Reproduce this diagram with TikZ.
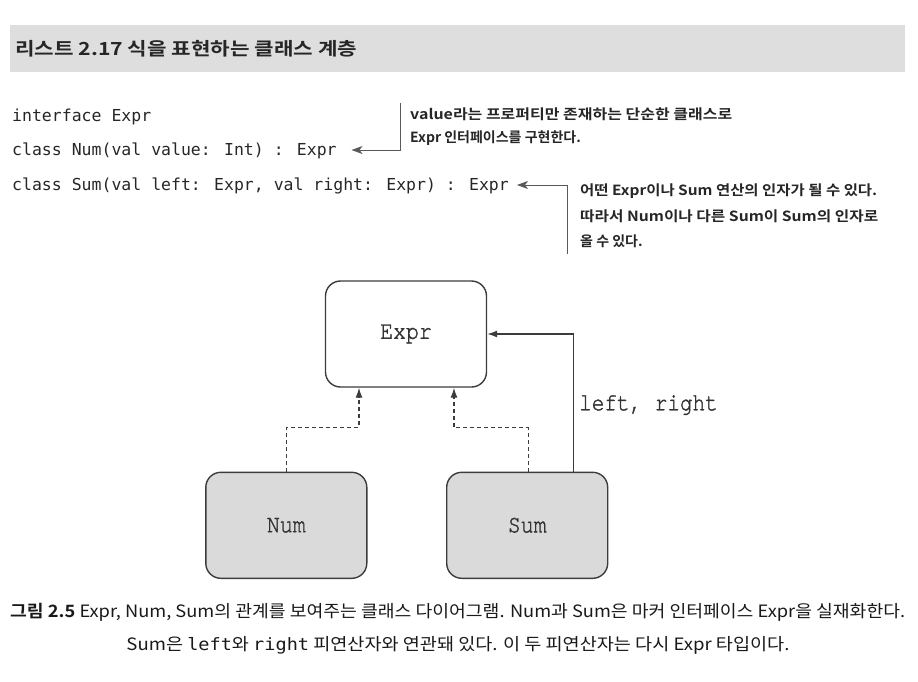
\documentclass[tikz,border=0pt]{standalone}
\usepackage{fontspec}
\usepackage{graphicx}
\setmainfont{Noto Sans CJK KR}[BoldFont={Noto Sans CJK KR Bold}]
\newfontfamily\codefont{DejaVu Sans Mono}
\newfontfamily\diafont{TeX Gyre Cursor}[FakeBold=1.5]
\newcommand{\diatext}[1]{\scalebox{1}[1.18]{#1}}
\usetikzlibrary{arrows.meta}
\definecolor{band}{RGB}{222,222,222}
\definecolor{boxfill}{RGB}{218,218,218}
\definecolor{ink}{RGB}{60,60,60}
\tikzset{
  codeline/.style={anchor=west,inner sep=0pt,font=\codefont\fontsize{16.5}{20}\selectfont,text=black!85},
  note/.style={anchor=west,inner sep=0pt,font=\bfseries\fontsize{14}{16}\selectfont,text=black!85},
  leader/.style={draw=black!65,line width=0.8pt,-{Stealth[length=11pt,width=8pt,inset=3pt]}},
  classbox/.style={draw=ink,line width=1.4pt,rounded corners=15pt,minimum width=161pt,minimum height=106pt,font=\diafont\fontsize{21.5}{22}\selectfont,text=black!80},
  assoc/.style={draw=ink,line width=1.3pt,-{Latex[length=10pt,width=7pt]}},
  realize/.style={draw=ink,line width=1.3pt,dashed,dash pattern=on 4pt off 3pt,-{Latex[length=10pt,width=7pt]}},
}
\begin{document}
\begin{tikzpicture}[x=1pt,y=-1pt]
\useasboundingbox (0,0) rectangle (918,681);
% header band
\fill[band] (10,25) rectangle (905,72);
\node[anchor=west,inner sep=0pt,font=\bfseries\fontsize{18}{20}\selectfont,text=black!85] (title) at (15,49) {\resizebox{342pt}{\height}{리스트 2.17 식을 표현하는 클래스 계층}};
% code
\node[codeline] (l1) at (12,117) {interface Expr};
\node[codeline] (l2) at (12,151) {class Num(val value: Int) : Expr};
\node[codeline] (l3) at (12,186) {class Sum(val left: Expr, val right: Expr) : Expr};
% notes
\node[note] (n1a) at (410,114) {\resizebox{322pt}{\height}{value라는 프로퍼티만 존재하는 단순한 클래스로}};
\node[note] (n1b) at (410,138) {Expr 인터페이스를 구현한다.};
\node[note] (n2a) at (580,191) {\resizebox{297pt}{\height}{어떤 Expr이나 Sum 연산의 인자가 될 수 있다.}};
\node[note] (n2b) at (580,216) {\resizebox{298pt}{\height}{따라서 Num이나 다른 Sum이 Sum의 인자로}};
\node[note] (n2c) at (580,241) {올 수 있다.};
\coordinate (b1) at (400,103);
\coordinate (t1) at (351.5,150);
\coordinate (b2) at (567,254);
\coordinate (t2) at (517,185);
\draw[leader] (b1) |- (t1);
\draw[leader] (b2) |- (t2);
% diagram
\node[classbox,fill=white] (expr) at (406,334) {\diatext{Expr}};
\node[classbox,fill=boxfill] (num) at (286.3,525.3) {\diatext{Num}};
\node[classbox,fill=boxfill] (sum) at (527.2,525.3) {\diatext{Sum}};
\draw[realize] (num.north) -- ++(0,-44) -| ([xshift=-47pt]expr.south);
\draw[realize] ([xshift=1pt]sum.north) -- ++(0,-44) -| ([xshift=48pt]expr.south);
\draw[assoc] ([xshift=46pt]sum.north) |- (expr.east);
\node[anchor=west,inner sep=0pt,font=\diafont\fontsize{21}{22}\selectfont,text=black!80] (lr) at (579,405) {\diatext{left, right}};
% caption
\node[anchor=west,inner sep=0pt,font=\fontsize{17}{20}\selectfont,text=black!90] (cap1) at (10,612) {\resizebox{895pt}{\height}{\textbf{그림 2.5} Expr, Num, Sum의 관계를 보여주는 클래스 다이어그램. Num과 Sum은 마커 인터페이스 Expr을 실재화한다.}};
\node[inner sep=0pt,font=\fontsize{17}{20}\selectfont,text=black!90] (cap2) at (458,645) {\resizebox{663pt}{\height}{Sum은 {\codefont left}와 {\codefont right} 피연산자와 연관돼 있다. 이 두 피연산자는 다시 Expr 타입이다.}};
\end{tikzpicture}
\end{document}
